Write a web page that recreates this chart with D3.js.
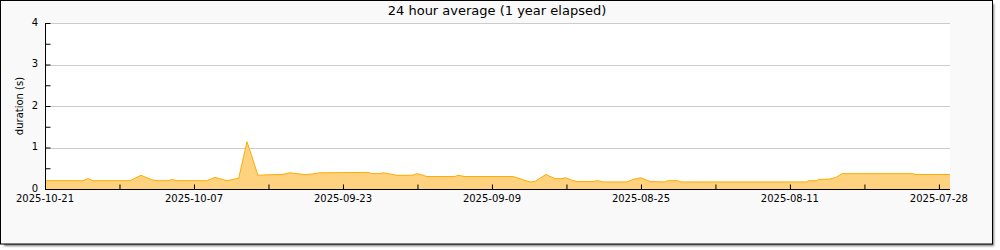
<!DOCTYPE html>
<html>
<head>
<meta charset="utf-8">
<script src="https://cdn.jsdelivr.net/npm/d3@7"></script>
<style>
  body { margin: 0; background: #fff; }
  svg text { font-family: "DejaVu Sans", sans-serif; fill: #000; }
</style>
</head>
<body>
<svg width="1000" height="250"></svg>
<script>
// days before the newest sample (2025-10-21 21:00 UTC) and the 24h average duration (s)
const daysAgo = [0, 3.63, 4.11, 4.58, 8.14, 9.18, 10.23, 10.79, 11.77, 12.14, 12.62, 15.47, 16.26,
  17.41, 18.17, 18.53, 19.32, 20.37, 21.04, 22.67, 23.43, 24.1, 24.87, 25.55, 26.3, 30.89, 31.27,
  32.04, 32.33, 32.81, 33.66, 35.1, 35.57, 36.05, 36.53, 39.21, 39.49, 40.17, 44.76, 46.38, 46.86,
  47.91, 48.78, 49.45, 49.82, 50.41, 50.88, 52.41, 52.89, 53.37, 55.66, 56.24, 57.0, 57.87, 59.29,
  59.59, 60.54, 60.83, 72.88, 73.06, 73.84, 74.0, 75.08, 75.65, 76.23, 83.02, 83.3, 86.56];
const durations = [0.2, 0.2, 0.25, 0.2, 0.2, 0.33, 0.22, 0.2, 0.2, 0.23, 0.2, 0.2, 0.28,
  0.2, 0.24, 0.26, 1.14, 0.33, 0.34, 0.35, 0.39, 0.37, 0.35, 0.36, 0.39, 0.4, 0.37,
  0.37, 0.39, 0.37, 0.33, 0.33, 0.37, 0.34, 0.3, 0.3, 0.33, 0.3, 0.3, 0.17, 0.18,
  0.35, 0.25, 0.25, 0.27, 0.21, 0.18, 0.18, 0.2, 0.17, 0.17, 0.23, 0.27, 0.18, 0.17,
  0.2, 0.2, 0.17, 0.17, 0.2, 0.2, 0.23, 0.24, 0.28, 0.37, 0.37, 0.35, 0.35];
const yTicks = [0, 1, 2, 3, 4];
const tickDays = 7.125;   // one tick per 7.125 days, every second one labelled
const tickCount = 13;
const title = '24 hour average (1 year elapsed)';

const start = new Date(Date.UTC(2025, 9, 21, 21));
const dayMs = 864e5;
const data = daysAgo.map((d, i) => ({ t: new Date(start - d * dayMs), v: durations[i] }));

const svg = d3.select('svg');

const defs = svg.append('defs');
defs.append('filter').attr('id', 'shadow')
  .append('feGaussianBlur').attr('stdDeviation', 1.2);

// frame + shadow
svg.append('rect')
  .attr('x', 4).attr('y', 4).attr('width', 990).attr('height', 242)
  .style('fill', '#777').attr('filter', 'url(#shadow)');
svg.append('rect')
  .attr('x', 0.5).attr('y', 0.5).attr('width', 992).attr('height', 243.5)
  .style('fill', '#f9f9f9').style('stroke', '#000').style('stroke-width', '1px');

const m = { left: 45, right: 950, top: 23, bottom: 189 };

const x = d3.scaleUtc()
  .domain([start, new Date(start - 86.56 * dayMs)])
  .range([m.left, m.right]);
const y = d3.scaleLinear().domain([0, 4]).range([m.bottom, m.top]);

svg.append('rect')
  .attr('x', m.left).attr('y', m.top).attr('width', m.right - m.left).attr('height', m.bottom - m.top)
  .style('fill', '#fff');

// grid
svg.append('g').selectAll('line').data(yTicks.filter(d => d > 0)).enter().append('line')
  .attr('x1', m.left).attr('x2', m.right)
  .attr('y1', d => Math.round(y(d)) + 0.5).attr('y2', d => Math.round(y(d)) + 0.5)
  .style('stroke', '#ccc').style('stroke-width', '1px');

// area + line
const area = d3.area().x(d => x(d.t)).y0(y(0)).y1(d => y(d.v));
const line = d3.line().x(d => x(d.t)).y(d => y(d.v));
svg.append('path').datum(data).attr('d', area).style('fill', '#ffd27f');
svg.append('path').datum(data).attr('d', line)
  .style('fill', 'none').style('stroke', '#ffab00').style('stroke-width', '1px');

// x axis (ticks point up into the plot)
const xTickVals = d3.range(tickCount).map(i => new Date(start - i * tickDays * dayMs));
const xAxis = svg.append('g').attr('transform', `translate(0,${m.bottom + 0.5})`)
  .call(d3.axisTop(x).tickValues(xTickVals).tickSize(5).tickFormat(''));
xAxis.select('.domain').attr('d', `M${m.left},0H${m.right}`);
xAxis.selectAll('line').style('stroke', '#000');
svg.append('g').selectAll('text')
  .data(xTickVals.filter((d, i) => i % 2 === 0)).enter().append('text')
  .attr('x', d => x(d)).attr('y', m.bottom + 13)
  .style('text-anchor', 'middle').style('font-size', '10px')
  .text(d3.utcFormat('%Y-%m-%d'));

// y axis (ticks point right into the plot)
const yAxis = svg.append('g').attr('transform', `translate(${m.left + 0.5},0)`)
  .call(d3.axisRight(y).tickValues(d3.range(0, 4.01, 0.5)).tickSize(5).tickFormat(''));
yAxis.select('.domain').attr('d', `M0,${m.top}V${m.bottom}`);
yAxis.selectAll('line').style('stroke', '#000');
svg.append('g').selectAll('text').data(yTicks).enter().append('text')
  .attr('x', m.left - 7).attr('y', d => y(d) + 2.5)
  .style('text-anchor', 'end').style('font-size', '10px')
  .text(d => d);

svg.append('text')
  .attr('transform', `translate(23,${(m.top + m.bottom) / 2}) rotate(-90)`)
  .style('text-anchor', 'middle').style('font-size', '10px')
  .text('duration (s)');

svg.append('text')
  .attr('x', 497).attr('y', 15)
  .style('text-anchor', 'middle').style('font-size', '13px')
  .text(title);
</script>
</body>
</html>
